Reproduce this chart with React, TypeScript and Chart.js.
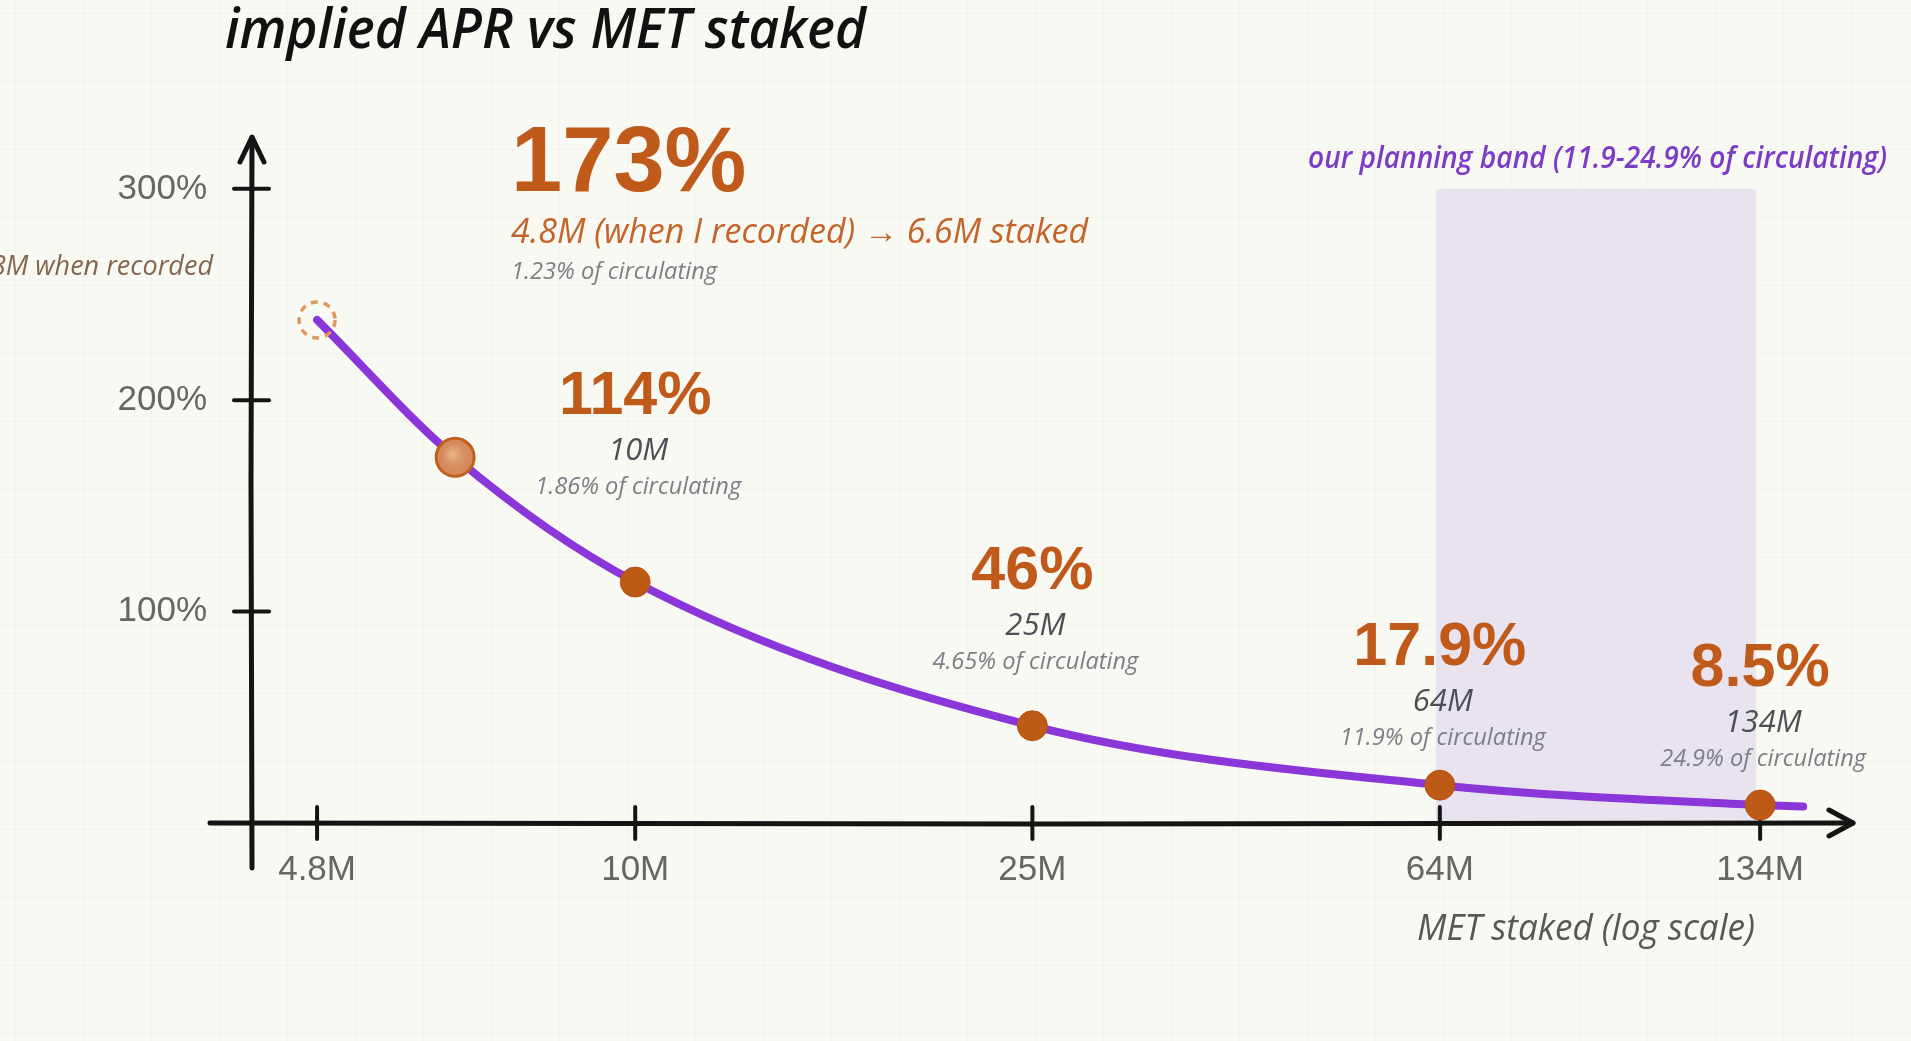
import React, { useEffect, useRef } from 'react';
import { Chart, registerables } from 'chart.js';

Chart.register(...registerables);

// ---------- data ----------
const CURVE_STAKED_M = [4.8, 6.6, 10, 25, 64, 134, 148];
const CURVE_APR_PCT = [238, 173, 114, 46, 17.9, 8.5, 7.8];

const MARK_STAKED_M = [6.6, 10, 25, 64, 134];
const MARK_APR_PCT = [173, 114, 46, 17.9, 8.5];
const MARK_APR_LABELS = ['173%', '114%', '46%', '17.9%', '8.5%'];
const MARK_STAKED_LABELS = ['4.8M (when I recorded) → 6.6M staked', '10M', '25M', '64M', '134M'];
const MARK_CIRC_LABELS = [
  '1.23% of circulating',
  '1.86% of circulating',
  '4.65% of circulating',
  '11.9% of circulating',
  '24.9% of circulating',
];

const RECORDED_STAKED_M = 4.8;
const RECORDED_APR_PCT = 238;
const RECORDED_LABEL = '4.8M when recorded';

const X_TICKS = [4.8, 10, 25, 64, 134];
const X_TICK_LABELS = ['4.8M', '10M', '25M', '64M', '134M'];
const Y_TICKS = [100, 200, 300];
const Y_TICK_LABELS = ['100%', '200%', '300%'];

const BAND_FROM_M = 64;
const BAND_TO_M = 134;
const BAND_TOP_PCT = 300;
const BAND_LABEL = 'our planning band (11.9-24.9% of circulating)';

const TITLE = 'implied APR vs MET staked';
const X_TITLE = 'MET staked (log scale)';

// ---------- layout / style ----------
const W = 1911;
const H = 1041;
const SANS = '"Liberation Sans", Arial, sans-serif';
const HAND = '"Open Sans", "Noto Sans", sans-serif';
const ORANGE = '#c05a1a';
const PURPLE = '#8a36d8';
const INK = '#141414';

const FIRST_DX = 56;
const FIRST_DY = [-266, -214, -178];
const LABEL_BIG_DY = [-168, -137, -120, -119];
const LABEL_MID_GAP = 46;
const LABEL_SMALL_GAP = 80;

function txt(
  ctx: CanvasRenderingContext2D,
  s: string,
  x: number,
  y: number,
  font: string,
  color: string,
  align: CanvasTextAlign,
  maxW?: number
) {
  ctx.font = font;
  ctx.fillStyle = color;
  ctx.textAlign = align;
  ctx.textBaseline = 'alphabetic';
  if (maxW) ctx.fillText(s, x, y, maxW);
  else ctx.fillText(s, x, y);
}

function poly(ctx: CanvasRenderingContext2D, pts: number[]) {
  ctx.beginPath();
  ctx.moveTo(pts[0], pts[1]);
  for (let i = 2; i < pts.length; i += 2) ctx.lineTo(pts[i], pts[i + 1]);
  ctx.stroke();
}

const sketchPlugin = {
  id: 'sketch',
  beforeDatasetsDraw(chart: any) {
    const { ctx, chartArea: a, scales } = chart;
    const x = scales.x;
    const y = scales.y;
    ctx.save();
    // planning band
    const bx0 = x.getPixelForValue(BAND_FROM_M);
    const bx1 = x.getPixelForValue(BAND_TO_M);
    const by0 = y.getPixelForValue(BAND_TOP_PCT);
    const by1 = y.getPixelForValue(0);
    ctx.fillStyle = '#e8e3ee';
    ctx.fillRect(bx0 - 4, by0, bx1 - bx0, by1 - by0);

    // axes
    ctx.strokeStyle = INK;
    ctx.lineCap = 'round';
    ctx.lineJoin = 'round';
    ctx.lineWidth = 5;
    const ox = a.left - 2;
    const oy = y.getPixelForValue(0);
    poly(ctx, [ox, a.bottom + 45, ox - 1, (a.top + a.bottom) / 2, ox, a.top + 2]);
    poly(ctx, [ox - 12, a.top + 26, ox, a.top + 1, ox + 12, a.top + 26]);
    poly(ctx, [a.left - 44, oy, (a.left + a.right) / 2, oy + 1, a.right + 16, oy]);
    poly(ctx, [a.right - 8, oy - 13, a.right + 16, oy, a.right - 8, oy + 13]);

    // tick marks
    ctx.lineWidth = 4;
    Y_TICKS.forEach((v) => {
      const py = y.getPixelForValue(v);
      poly(ctx, [ox - 18, py, ox + 17, py]);
    });
    X_TICKS.forEach((v) => {
      const px = x.getPixelForValue(v);
      poly(ctx, [px, oy - 16, px, oy + 16]);
    });
    ctx.restore();
  },
  afterDraw(chart: any) {
    const { ctx, scales } = chart;
    const x = scales.x;
    const y = scales.y;
    ctx.save();

    // soft highlight on the featured marker
    const hx = x.getPixelForValue(MARK_STAKED_M[0]);
    const hy = y.getPixelForValue(MARK_APR_PCT[0]);
    const g = ctx.createRadialGradient(hx - 3, hy - 4, 1, hx, hy, 17);
    g.addColorStop(0, 'rgba(240,190,150,0.85)');
    g.addColorStop(1, 'rgba(212,137,90,0)');
    ctx.fillStyle = g;
    ctx.beginPath();
    ctx.arc(hx, hy, 17, 0, Math.PI * 2);
    ctx.fill();

    // dashed circle at the recorded point
    const rx = x.getPixelForValue(RECORDED_STAKED_M);
    const ry = y.getPixelForValue(RECORDED_APR_PCT);
    ctx.setLineDash([7, 6]);
    ctx.lineWidth = 3.5;
    ctx.strokeStyle = '#e0985f';
    ctx.beginPath();
    ctx.arc(rx, ry, 18, 0, Math.PI * 2);
    ctx.stroke();
    ctx.setLineDash([]);

    txt(ctx, RECORDED_LABEL, 213, 275, `italic 27px ${HAND}`, '#86654f', 'right');

    // title and axis title
    txt(ctx, TITLE, 225, 48, `italic 600 56px ${HAND}`, '#111111', 'left', 641);
    txt(ctx, X_TITLE, 1586, 940, `italic 36px ${HAND}`, '#585858', 'center', 338);
    txt(ctx, BAND_LABEL, 1887, 168, `italic 600 30px ${HAND}`, '#7b3cc6', 'right', 579);

    // first (featured) annotation
    const fx = x.getPixelForValue(MARK_STAKED_M[0]) + FIRST_DX;
    const fy = y.getPixelForValue(MARK_APR_PCT[0]);
    txt(ctx, MARK_APR_LABELS[0], fx, fy + FIRST_DY[0], `bold 92px ${SANS}`, ORANGE, 'left');
    txt(ctx, MARK_STAKED_LABELS[0], fx, fy + FIRST_DY[1], `italic 34px ${HAND}`, '#c4642a', 'left', 577);
    txt(ctx, MARK_CIRC_LABELS[0], fx, fy + FIRST_DY[2], `italic 24px ${HAND}`, '#7b7f86', 'left', 206);

    // remaining annotations
    for (let i = 1; i < MARK_STAKED_M.length; i++) {
      const px = x.getPixelForValue(MARK_STAKED_M[i]);
      const py = y.getPixelForValue(MARK_APR_PCT[i]) + LABEL_BIG_DY[i - 1];
      txt(ctx, MARK_APR_LABELS[i], px, py, `bold 61px ${SANS}`, ORANGE, 'center');
      txt(ctx, MARK_STAKED_LABELS[i], px + 3, py + LABEL_MID_GAP, `italic 31px ${HAND}`, '#4c5055', 'center');
      txt(ctx, MARK_CIRC_LABELS[i], px + 3, py + LABEL_SMALL_GAP, `italic 24px ${HAND}`, '#7b7f86', 'center', 206);
    }
    ctx.restore();
  },
};

export default function App() {
  const ref = useRef<HTMLCanvasElement | null>(null);

  useEffect(() => {
    document.body.style.margin = '0';
    document.body.style.overflow = 'hidden';
    const canvas = ref.current;
    if (!canvas) return;

    const markerRadius = MARK_STAKED_M.map((_, i) => (i === 0 ? 19 : 15));
    const markerFill = MARK_STAKED_M.map((_, i) => (i === 0 ? '#d4895a' : '#bd5a16'));
    const markerBorder = MARK_STAKED_M.map((_, i) => (i === 0 ? '#c0601e' : '#b85415'));
    const markerBorderW = MARK_STAKED_M.map((_, i) => (i === 0 ? 3 : 1));

    const chart = new Chart(canvas, {
      type: 'line',
      data: {
        datasets: [
          {
            label: 'markers',
            data: MARK_STAKED_M.map((v, i) => ({ x: v, y: MARK_APR_PCT[i] })),
            showLine: false,
            pointRadius: markerRadius,
            pointBackgroundColor: markerFill,
            pointBorderColor: markerBorder,
            pointBorderWidth: markerBorderW,
            order: 0,
          },
          {
            label: 'implied APR',
            data: CURVE_STAKED_M.map((v, i) => ({ x: v, y: CURVE_APR_PCT[i] })),
            borderColor: PURPLE,
            borderWidth: 8,
            borderCapStyle: 'round',
            borderJoinStyle: 'round',
            pointRadius: 0,
            cubicInterpolationMode: 'monotone',
            fill: false,
            order: 1,
          },
        ],
      },
      options: {
        animation: false,
        responsive: true,
        maintainAspectRatio: false,
        events: [],
        layout: { padding: { left: 0, right: 74, top: 136, bottom: 0 } },
        plugins: {
          legend: { display: false },
          title: { display: false },
          tooltip: { enabled: false },
        },
        scales: {
          x: {
            type: 'logarithmic',
            min: 4.15,
            max: 160,
            border: { display: false },
            grid: { display: false, drawTicks: false },
            afterFit: (s: any) => {
              s.height = 218;
            },
            afterBuildTicks: (s: any) => {
              s.ticks = X_TICKS.map((v) => ({ value: v }));
            },
            ticks: {
              autoSkip: false,
              maxRotation: 0,
              padding: 26,
              color: '#666666',
              font: { family: SANS, size: 35 },
              callback: (_v: any, i: number) => X_TICK_LABELS[i],
            },
          },
          y: {
            type: 'linear',
            min: 0,
            max: 325,
            border: { display: false },
            grid: { display: false, drawTicks: false },
            afterFit: (s: any) => {
              s.width = 254;
            },
            afterBuildTicks: (s: any) => {
              s.ticks = Y_TICKS.map((v) => ({ value: v }));
            },
            ticks: {
              autoSkip: false,
              padding: 47,
              color: '#666666',
              font: { family: SANS, size: 35 },
              callback: (_v: any, i: number) => Y_TICK_LABELS[i],
            },
          },
        },
      } as any,
      plugins: [sketchPlugin],
    });

    return () => chart.destroy();
  }, []);

  const grid = 'rgba(90,90,60,0.035)';
  return (
    <div
      style={{
        position: 'relative',
        width: W,
        height: H,
        backgroundColor: '#f9f9f3',
        backgroundImage: `linear-gradient(to right, ${grid} 1px, transparent 1px), linear-gradient(to bottom, ${grid} 1px, transparent 1px)`,
        backgroundSize: '68px 68px',
        backgroundPosition: '15px 13px',
      }}
    >
      <canvas ref={ref} />
    </div>
  );
}
